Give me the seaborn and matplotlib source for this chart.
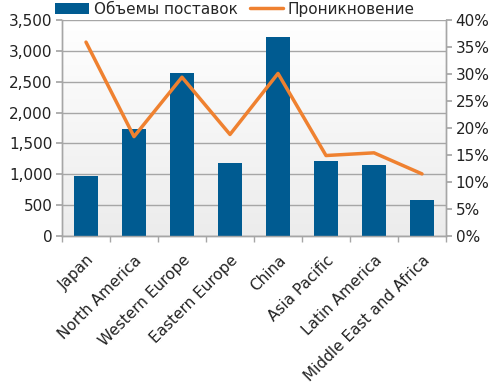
import numpy as np
import pandas as pd
import matplotlib.pyplot as plt
import matplotlib.ticker as mticker
import seaborn as sns

# --- chart data ---
regions = ["Japan", "North America", "Western Europe", "Eastern Europe",
           "China", "Asia Pacific", "Latin America", "Middle East and Africa"]
shipments = [972, 1734, 2641, 1180, 3222, 1210, 1145, 576]
penetration = [35.9, 18.4, 29.4, 18.8, 30.1, 14.9, 15.4, 11.5]

bar_label = "Объемы поставок"
line_label = "Проникновение"

BAR_COLOR = "#005b91"
LINE_COLOR = "#ef8130"
GRID_COLOR = "#a6a6a6"
FS = 11

sns.set_theme(style="white")
plt.rcParams["font.family"] = ["DejaVu Sans"]
plt.rcParams["font.size"] = FS

df = pd.DataFrame({"region": regions, "shipments": shipments,
                   "penetration": penetration})

fig, ax = plt.subplots(figsize=(4.98, 3.84), dpi=100)
fig.subplots_adjust(left=0.1245, right=0.8956, top=0.948, bottom=0.3854)

# soft vertical gradient behind the plot
grad = np.linspace(1.0, 0.0, 256).reshape(-1, 1)
ax.imshow(grad, extent=[0, 1, 0, 1], transform=ax.transAxes, aspect="auto",
          cmap=plt.matplotlib.colors.LinearSegmentedColormap.from_list(
              "bg", ["#ececec", "#ffffff"]), zorder=0)

sns.barplot(data=df, x="region", y="shipments", color=BAR_COLOR,
            saturation=1, width=0.5, linewidth=0, ax=ax, zorder=3,
            label=bar_label)
ax.set_xlim(-0.5, len(regions) - 0.5)
ax.set_ylim(0, 3500)
ax.set_yticks(np.arange(0, 3501, 500))
ax.yaxis.set_major_formatter(mticker.StrMethodFormatter("{x:,.0f}"))
ax.set_xlabel("")
ax.set_ylabel("")
ax.grid(axis="y", color=GRID_COLOR, linewidth=1, zorder=1)
ax.set_axisbelow(True)

# ticks between categories
ax.set_xticks(np.arange(len(regions)))
ax.set_xticklabels(regions, rotation=45, ha="right", rotation_mode="anchor")
ax.set_xticks(np.arange(-0.5, len(regions)), minor=True)
ax.tick_params(axis="x", which="major", length=0, pad=12, labelsize=FS,
               colors="#222222")
ax.tick_params(axis="x", which="minor", length=4, color=GRID_COLOR,
               bottom=True)
ax.tick_params(axis="y", length=4, color=GRID_COLOR, left=True,
               labelsize=FS, labelcolor="#222222", pad=3)

ax2 = ax.twinx()
sns.lineplot(x=np.arange(len(regions)), y=penetration, color=LINE_COLOR,
             linewidth=2.5, ax=ax2, zorder=4, label=line_label, legend=False)
ax2.set_ylim(0, 40)
ax2.set_yticks(np.arange(0, 41, 5))
ax2.yaxis.set_major_formatter(mticker.FuncFormatter(lambda v, p: f"{v:.0f}%"))
ax2.tick_params(axis="y", length=4, color=GRID_COLOR, right=True,
                labelsize=FS, labelcolor="#222222", pad=3)
ax2.set_ylabel("")
ax2.set_xlim(-0.5, len(regions) - 0.5)

for a in (ax, ax2):
    a.spines["top"].set_visible(False)
    for s in ("left", "right", "bottom"):
        a.spines[s].set_color(GRID_COLOR)
        a.spines[s].set_linewidth(1)

if ax.get_legend() is not None:
    ax.get_legend().remove()
h1, l1 = ax.get_legend_handles_labels()
h2, l2 = ax2.get_legend_handles_labels()
fig.legend(h1[:1] + h2[:1], [bar_label, line_label], loc="upper left",
           bbox_to_anchor=(0.108, 1.0), ncol=2, frameon=False,
           fontsize=FS, handlelength=2.2, handletextpad=0.3,
           columnspacing=0.8, borderaxespad=0, borderpad=0.1)

fig.savefig("out.png", dpi=100)
